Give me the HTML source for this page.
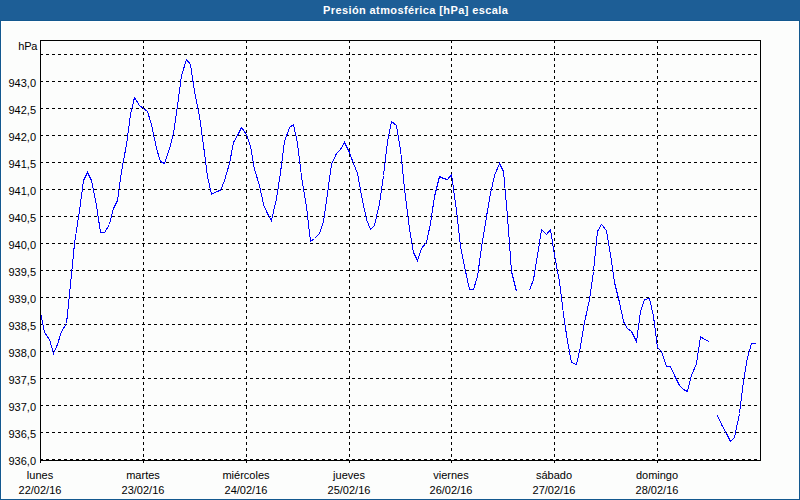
<!DOCTYPE html>
<html><head><meta charset="utf-8"><style>
*{margin:0;padding:0;box-sizing:border-box}
html,body{width:800px;height:500px;overflow:hidden;background:#fcfdfc}
body{position:relative;font-family:"Liberation Sans",sans-serif;font-size:11px;color:#000}
#iw{position:absolute;left:1px;top:21px;width:798px;height:478px;border-left:1px solid #fff;border-top:1px solid #fff}
#tb{position:absolute;left:0;top:0;width:800px;height:20px;background:#1d5e96}
#tbl{position:absolute;left:0;top:20px;width:800px;height:1px;background:#13588f}
#bl{position:absolute;left:0;top:20px;width:1px;height:480px;background:#13588f}
#br{position:absolute;left:799px;top:20px;width:1px;height:480px;background:#13588f}
#bb{position:absolute;left:0;top:499px;width:800px;height:1px;background:#13588f}
#title{position:absolute;left:323px;top:3px;color:#fff;font-weight:bold;font-size:11px;line-height:14px;white-space:nowrap;letter-spacing:0.4px}
.yl{position:absolute;right:764px;line-height:12px;white-space:nowrap;text-align:right}
.xl{position:absolute;width:80px;text-align:center;line-height:12px;white-space:nowrap}
</style></head><body>
<div id="iw"></div><div id="tb"></div><div id="tbl"></div><div id="bl"></div><div id="br"></div><div id="bb"></div>
<div id="title">Presión atmosférica [hPa] escala</div>

<svg width="800" height="500" viewBox="0 0 800 500" style="position:absolute;left:0;top:0">
<g stroke="#000" stroke-width="1" shape-rendering="crispEdges" fill="none">
<line x1="40" y1="54.5" x2="760" y2="54.5" stroke-dasharray="3 3"/>
<line x1="40" y1="81.5" x2="760" y2="81.5" stroke-dasharray="3 3"/>
<line x1="40" y1="108.5" x2="760" y2="108.5" stroke-dasharray="3 3"/>
<line x1="40" y1="135.5" x2="760" y2="135.5" stroke-dasharray="3 3"/>
<line x1="40" y1="162.5" x2="760" y2="162.5" stroke-dasharray="3 3"/>
<line x1="40" y1="189.5" x2="760" y2="189.5" stroke-dasharray="3 3"/>
<line x1="40" y1="216.5" x2="760" y2="216.5" stroke-dasharray="3 3"/>
<line x1="40" y1="243.5" x2="760" y2="243.5" stroke-dasharray="3 3"/>
<line x1="40" y1="270.5" x2="760" y2="270.5" stroke-dasharray="3 3"/>
<line x1="40" y1="297.5" x2="760" y2="297.5" stroke-dasharray="3 3"/>
<line x1="40" y1="324.5" x2="760" y2="324.5" stroke-dasharray="3 3"/>
<line x1="40" y1="351.5" x2="760" y2="351.5" stroke-dasharray="3 3"/>
<line x1="40" y1="378.5" x2="760" y2="378.5" stroke-dasharray="3 3"/>
<line x1="40" y1="405.5" x2="760" y2="405.5" stroke-dasharray="3 3"/>
<line x1="40" y1="432.5" x2="760" y2="432.5" stroke-dasharray="3 3"/>
<line x1="40" y1="459.5" x2="760" y2="459.5" stroke-dasharray="3 3"/>
<line x1="143.5" y1="40" x2="143.5" y2="460" stroke-dasharray="3 3"/>
<line x1="246.5" y1="40" x2="246.5" y2="460" stroke-dasharray="3 3"/>
<line x1="349.5" y1="40" x2="349.5" y2="460" stroke-dasharray="3 3"/>
<line x1="451.5" y1="40" x2="451.5" y2="460" stroke-dasharray="3 3"/>
<line x1="554.5" y1="40" x2="554.5" y2="460" stroke-dasharray="3 3"/>
<line x1="657.5" y1="40" x2="657.5" y2="460" stroke-dasharray="3 3"/>
</g>
<g stroke="#00f" stroke-width="1" fill="none" shape-rendering="crispEdges">
<polyline points="40.5,312.5 44.5,332.5 49.5,339.5 53.5,353.5 57.5,344.5 61.5,331.5 66.5,323.5 70.5,284.5 74.5,243.5 79.5,210.5 83.5,180.5 87.5,172.5 91.5,180.5 96.5,205.5 100.5,232.5 104.5,232.5 109.5,224.5 113.5,208.5 117.5,200.5 121.5,171.5 126.5,144.5 130.5,114.5 134.5,97.5 139.5,105.5 143.5,108.5 147.5,111.5 151.5,124.5 156.5,148.5 160.5,161.5 164.5,163.5 169.5,148.5 173.5,133.5 177.5,105.5 181.5,75.5 186.5,59.5 190.5,64.5 194.5,91.5 199.5,116.5 203.5,145.5 207.5,176.5 211.5,194.5 216.5,191.5 220.5,190.5 224.5,180.5 229.5,163.5 233.5,142.5 237.5,135.5 241.5,127.5 246.5,134.5 250.5,146.5 254.5,169.5 259.5,185.5 263.5,204.5 267.5,213.5 271.5,220.5 276.5,198.5 280.5,172.5 284.5,141.5 289.5,127.5 293.5,124.5 297.5,143.5 301.5,176.5 306.5,206.5 310.5,241.5 314.5,238.5 319.5,233.5 323.5,221.5 327.5,193.5 331.5,164.5 336.5,153.5 340.5,149.5 344.5,142.5 349.5,152.5 353.5,163.5 357.5,173.5 361.5,195.5 366.5,219.5 370.5,229.5 374.5,225.5 379.5,203.5 383.5,175.5 387.5,141.5 391.5,121.5 396.5,125.5 400.5,149.5 404.5,188.5 409.5,228.5 413.5,252.5 417.5,260.5 421.5,248.5 426.5,242.5 430.5,223.5 434.5,196.5 439.5,176.5 443.5,178.5 447.5,179.5 451.5,174.5 456.5,210.5 460.5,246.5 464.5,266.5 469.5,289.5 473.5,289.5 477.5,276.5 481.5,247.5 486.5,216.5 490.5,193.5 494.5,175.5 499.5,163.5 503.5,171.5 507.5,216.5 511.5,271.5 516.5,291.5"/>
<polyline points="529.5,290.5 533.5,279.5 537.5,255.5 541.5,229.5 546.5,234.5 550.5,229.5 554.5,255.5 559.5,281.5 563.5,314.5 567.5,341.5 571.5,362.5 576.5,364.5 580.5,346.5 584.5,322.5 589.5,299.5 593.5,271.5 597.5,231.5 601.5,224.5 606.5,230.5 610.5,254.5 614.5,282.5 619.5,302.5 623.5,321.5 627.5,328.5 631.5,331.5 636.5,341.5 640.5,311.5 644.5,299.5 649.5,298.5 653.5,316.5 657.5,347.5 661.5,351.5 666.5,366.5 670.5,366.5 674.5,375.5 679.5,385.5 683.5,389.5 687.5,391.5 691.5,375.5 696.5,363.5 700.5,336.5 704.5,339.5 709.5,341.5"/>
<polyline points="717.5,415.5 721.5,424.5 726.5,433.5 730.5,441.5 734.5,437.5 739.5,413.5 743.5,381.5 747.5,357.5 751.5,343.5 755.5,343.5"/>
</g>
<g stroke="#000" stroke-width="1" shape-rendering="crispEdges" fill="none">
<rect x="40.5" y="40.5" width="720" height="420"/>
<line x1="40.5" y1="461" x2="40.5" y2="463"/>
<line x1="143.5" y1="461" x2="143.5" y2="463"/>
<line x1="246.5" y1="461" x2="246.5" y2="463"/>
<line x1="349.5" y1="461" x2="349.5" y2="463"/>
<line x1="451.5" y1="461" x2="451.5" y2="463"/>
<line x1="554.5" y1="461" x2="554.5" y2="463"/>
<line x1="657.5" y1="461" x2="657.5" y2="463"/>
</g></svg>
<div class="yl" style="top:40px;letter-spacing:-0.3px;margin-right:-1px">hPa</div>
<div class="yl" style="top:77px">943,0</div>
<div class="yl" style="top:104px">942,5</div>
<div class="yl" style="top:131px">942,0</div>
<div class="yl" style="top:158px">941,5</div>
<div class="yl" style="top:185px">941,0</div>
<div class="yl" style="top:212px">940,5</div>
<div class="yl" style="top:239px">940,0</div>
<div class="yl" style="top:266px">939,5</div>
<div class="yl" style="top:293px">939,0</div>
<div class="yl" style="top:320px">938,5</div>
<div class="yl" style="top:347px">938,0</div>
<div class="yl" style="top:374px">937,5</div>
<div class="yl" style="top:401px">937,0</div>
<div class="yl" style="top:428px">936,5</div>
<div class="yl" style="top:455px">936,0</div>
<div class="xl" style="left:0px;top:469px">lunes</div>
<div class="xl" style="left:0px;top:484px">22/02/16</div>
<div class="xl" style="left:103px;top:469px">martes</div>
<div class="xl" style="left:103px;top:484px">23/02/16</div>
<div class="xl" style="left:206px;top:469px">miércoles</div>
<div class="xl" style="left:206px;top:484px">24/02/16</div>
<div class="xl" style="left:309px;top:469px">jueves</div>
<div class="xl" style="left:309px;top:484px">25/02/16</div>
<div class="xl" style="left:411px;top:469px">viernes</div>
<div class="xl" style="left:411px;top:484px">26/02/16</div>
<div class="xl" style="left:514px;top:469px">sábado</div>
<div class="xl" style="left:514px;top:484px">27/02/16</div>
<div class="xl" style="left:617px;top:469px">domingo</div>
<div class="xl" style="left:617px;top:484px">28/02/16</div>
</body></html>
